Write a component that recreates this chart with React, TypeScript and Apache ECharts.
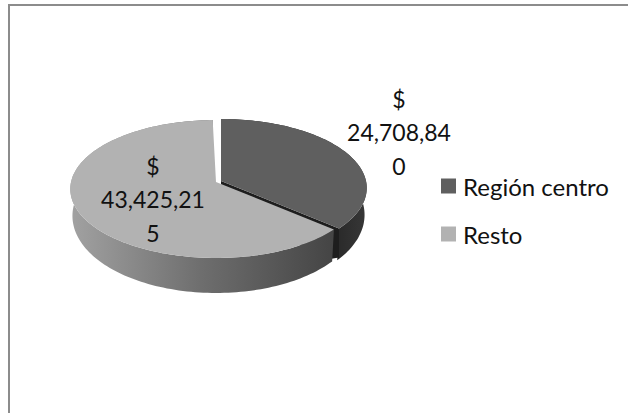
import React, { useEffect, useRef } from "react";
import * as echarts from "echarts";

const categories = ["Región centro", "Resto"];
const values = [24708840, 43425215];
const topColors = ["#5f5f5f", "#b2b2b2"];

const total = values.reduce((a, b) => a + b, 0);
const FONT = "Lato";

function wrapLabel(v: number) {
  const s = v.toLocaleString("en-US");
  return "$\n" + s.slice(0, 9) + "\n" + s.slice(9);
}

function project(ax: number, ay: number, deg: number) {
  const t = (deg * Math.PI) / 180;
  const w = 1 + 0.101 * Math.cos(t);
  return [ax + (145 * Math.sin(t)) / w, ay - (68.3 * Math.cos(t)) / w];
}
function depth(deg: number) {
  return 26 - 9 * Math.cos((deg * Math.PI) / 180);
}

function makeRender(index: number, ax: number, ay: number, lx: number, ly: number, wallFill: any) {
  return (params: any, api: any) => {
    const before = values.slice(0, index).reduce((a, b) => a + b, 0);
    const start = (before / total) * 360;
    const end = start + (api.value(0) / total) * 360;
    const top: number[][] = [];
    const base: number[][] = [];
    for (let d = start; d <= end + 0.001; d += 1.5) {
      const p = project(ax, ay, d);
      top.push(p);
      base.push([ax + (p[0] - ax) * 0.985, p[1] + depth(d)]);
    }
    const wall = top.concat(base.slice().reverse());
    const children: any[] = [
      { type: "polygon", shape: { points: wall }, style: { fill: wallFill } },
    ];
    if (index === 0) {
      const c = top[top.length - 1];
      children.push({
        type: "polygon",
        shape: {
          points: [
            [ax, ay],
            c,
            [c[0], c[1] + 29],
            [c[0] - 12, c[1] + 31],
            [ax, ay + 24],
          ],
        },
        style: { fill: "#1e1e1e" },
      });
    }
    children.push({
      type: "polygon",
      shape: { points: [[ax, ay], ...top] },
      style: { fill: topColors[index] },
    });
    children.push({
      type: "text",
      x: lx,
      y: ly,
      style: {
        text: wrapLabel(api.value(0)),
        font: `23px ${FONT}`,
        fill: "#111111",
        align: "center",
        verticalAlign: "middle",
        lineHeight: 33.5,
      },
    });
    return { type: "group", children };
  };
}

export default function App() {
  const ref = useRef<HTMLDivElement>(null);
  useEffect(() => {
    const chart = echarts.init(ref.current!, null, { renderer: "svg" });
    const darkWall = new echarts.graphic.LinearGradient(
      325, 0, 368, 0,
      [
        { offset: 0, color: "#242424" },
        { offset: 1, color: "#383838" },
      ],
      true
    );
    const lightWall = new echarts.graphic.LinearGradient(
      70, 0, 332, 0,
      [
        { offset: 0, color: "#a2a2a2" },
        { offset: 0.5, color: "#6e6e6e" },
        { offset: 1, color: "#454545" },
      ],
      true
    );
    chart.setOption({
      animation: false,
      backgroundColor: "#ffffff",
      legend: {
        orient: "vertical",
        left: 436,
        top: 169,
        itemGap: 24,
        itemWidth: 15,
        itemHeight: 24,
        icon: "path://M0,5 H14 V19 H0 Z",
        data: categories,
        textStyle: { fontFamily: FONT, fontSize: 24, color: "#111111", padding: [0, 0, 0, 2] },
      },
      graphic: [
        {
          type: "polyline",
          silent: true,
          shape: { points: [[9, 413], [9, 5], [628, 5]] },
          style: { stroke: "#8c8c8c", lineWidth: 2, fill: "none" },
        },
      ],
      series: [
        {
          type: "custom",
          name: categories[0],
          coordinateSystem: "none",
          itemStyle: { color: topColors[0] },
          z: 2,
          data: [[values[0]]],
          renderItem: makeRender(0, 221, 181, 399, 132, darkWall),
        },
        {
          type: "custom",
          name: categories[1],
          coordinateSystem: "none",
          itemStyle: { color: topColors[1] },
          z: 3,
          data: [[values[1]]],
          renderItem: makeRender(1, 216, 182, 153, 199, lightWall),
        },
      ],
    });
    return () => chart.dispose();
  }, []);
  return (
    <div
      ref={ref}
      style={{ position: "fixed", left: 0, top: 0, width: 628, height: 413 }}
    />
  );
}
